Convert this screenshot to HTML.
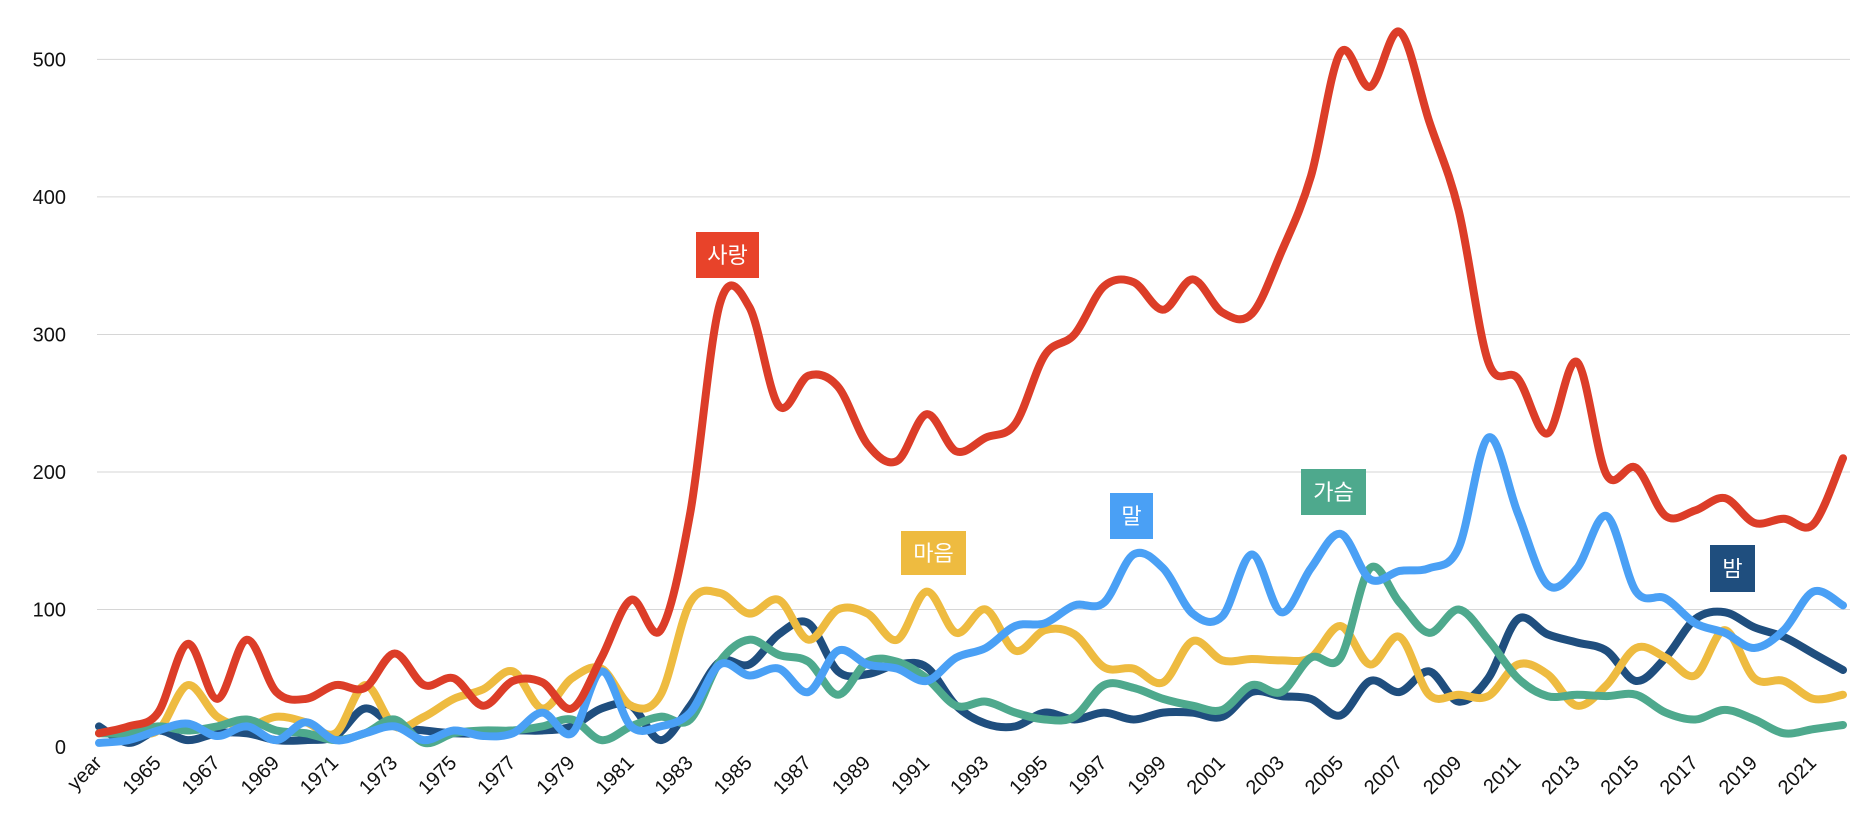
<!DOCTYPE html>
<html><head><meta charset="utf-8"><style>
body{margin:0;background:#fff;}
svg{display:block;font-family:"Liberation Sans","Noto Sans CJK KR",sans-serif;}
</style></head><body>
<svg id="chart" width="1868" height="832"></svg>
<script>
const categories=["year"];for(let y=1964;y<=2022;y++)categories.push(String(y));
const sarang=[10,15,25,75,35,78,40,35,45,43,68,45,50,30,48,47,28,65,107,85,170,322,320,248,270,262,220,208,242,215,225,235,285,300,335,338,318,340,316,315,360,415,505,480,520,455,390,280,268,228,280,198,203,168,172,181,163,166,162,210];
const maeum=[10,12,12,45,22,15,22,18,10,45,15,22,35,42,55,28,50,57,30,38,105,112,97,107,78,100,97,78,113,83,100,70,85,82,58,57,47,77,63,64,63,65,88,60,80,38,38,37,60,53,30,45,72,65,52,85,50,48,35,38];
const mal=[3,5,12,17,8,15,5,18,5,10,15,5,12,8,10,25,10,55,15,15,25,60,52,57,40,70,60,57,48,65,72,88,90,103,105,140,130,97,95,140,98,130,155,122,128,130,145,225,170,118,130,168,113,108,90,83,72,85,113,103];
const gaseum=[10,10,15,12,15,20,12,10,5,10,20,3,10,12,12,15,20,5,15,22,20,62,78,67,62,38,62,62,50,30,33,25,20,22,45,43,35,30,27,45,40,65,65,130,105,83,100,78,50,37,38,37,38,25,20,27,20,10,13,16];
const bam=[15,3,12,5,10,10,5,5,8,28,15,12,10,10,12,12,15,28,30,5,30,62,60,82,90,55,53,60,58,30,17,15,25,20,25,20,25,25,22,40,37,35,23,48,40,55,33,50,93,82,76,70,48,65,93,98,87,80,68,56];
const yTicks=[0,100,200,300,400,500];
const NS="http://www.w3.org/2000/svg",svg=document.getElementById('chart');
const X0=99,X1=1843,Y0=747,Y500=59.4;
const xs=i=>X0+i*(X1-X0)/(categories.length-1);
const ys=v=>Y0-v*(Y0-Y500)/500;
function mk(t,a){const e=document.createElementNS(NS,t);for(const k in a)e.setAttribute(k,a[k]);svg.appendChild(e);return e;}
yTicks.forEach(t=>{
 const g=mk('line',{x1:97,x2:1850,y1:ys(t),y2:ys(t),stroke:t===0?'#fff':'#d6d6d6','stroke-width':1});
 
 
 const l=mk('text',{x:66,y:ys(t)+7,'text-anchor':'end','font-size':20,fill:'#111'});l.textContent=t;
 
 
});
categories.forEach((c,i)=>{if(i%2)return;
 const x=xs(i)+4,y=764;
 const t=mk('text',{x:x,y:y,'text-anchor':'end','font-size':20,fill:'#111',transform:`rotate(-45 ${x} ${y})`});t.textContent=c;
 
 
});
function path(vals){const p=vals.map((v,i)=>[xs(i),ys(v)]);let d=`M${p[0][0]},${p[0][1]}`;
 for(let i=0;i<p.length-1;i++){const a=p[i-1]||p[i],b=p[i],c=p[i+1],e=p[i+2]||c;const k=6;
 d+=`C${b[0]+(c[0]-a[0])/k},${b[1]+(c[1]-a[1])/k} ${c[0]-(e[0]-b[0])/k},${c[1]-(e[1]-b[1])/k} ${c[0]},${c[1]}`;}return d;}
const series=[[bam,'#1f4e7e','series-bam'],[maeum,'#eebb40','series-maeum'],[gaseum,'#4ea98d','series-gaseum'],[mal,'#4aa0f5','series-mal'],[sarang,'#dc3d28','series-sarang']];
series.forEach(s=>{const e=mk('path',{d:path(s[0]),fill:'none',stroke:s[1],'stroke-width':8,'stroke-linejoin':'round','stroke-linecap':'round'});
 
 
});
const labels=[['사랑','#e8432a',696,232,759,278],['마음','#eebb40',901,531,966,575],['말','#4aa0f5',1110,493,1153,539],['가슴','#4ea98d',1301,469,1366,515],['밤','#1f4e7e',1710,545,1755,592]];
labels.forEach(l=>{const r=mk('rect',{x:l[2],y:l[3],width:l[4]-l[2],height:l[5]-l[3],fill:l[1]});
 
 
 const t=mk('text',{x:(l[2]+l[4])/2,y:(l[3]+l[5])/2+8,'text-anchor':'middle','font-size':22,fill:'#fff'});t.textContent=l[0];
 
 
});
</script>
</body></html>
